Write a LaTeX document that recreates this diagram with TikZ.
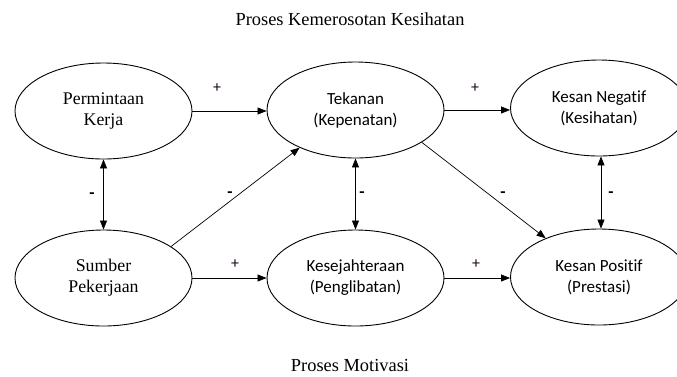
\documentclass[tikz,border=0pt]{standalone}
\usepackage{fontspec}
\setmainfont{Liberation Serif}
\newfontfamily\calfont[Ligatures={NoCommon,NoRare}]{Carlito}
\usetikzlibrary{shapes.geometric,arrows.meta}
\tikzset{
  elbox/.style={ellipse,draw,line width=0.9pt,minimum width=177pt,minimum height=96pt,inner sep=0pt,align=center},
  serifbox/.style={elbox,font=\fontsize{17.8}{21}\selectfont},
  sansbox/.style={elbox,font=\calfont\fontsize{17}{21}\selectfont},
  conn/.style={line width=0.7pt,-{Triangle[length=9pt,width=7pt]}},
  biconn/.style={line width=0.7pt,{Triangle[length=9pt,width=7pt]}-{Triangle[length=9pt,width=7pt]}},
  plus/.style={font=\calfont\fontsize{16}{16}\selectfont,text=black!80!violet,inner sep=0pt},
  minus/.style={font=\calfont\bfseries\fontsize{17}{17}\selectfont,inner sep=0pt},
  title/.style={font=\fontsize{18.4}{18}\selectfont,inner sep=0pt}
}
\begin{document}
\begin{tikzpicture}[x=1pt,y=-1pt]
\useasboundingbox (0,0) rectangle (677,376);
\node[title] (t1) at (350,19) {Proses Kemerosotan Kesihatan};
\node[title] (t2) at (350,365) {Proses Motivasi};

\node[serifbox] (pk) at (103.5,111) {Permintaan\\Kerja};
\node[sansbox] (tk) at (355.5,110) {Tekanan\\(Kepenatan)};
\node[sansbox] (kn) at (599,108) {Kesan Negatif\\(Kesihatan)};
\node[serifbox] (sp) at (103.5,278) {Sumber\\Pekerjaan};
\node[sansbox] (ks) at (355.5,278) {Kesejahteraan\\(Penglibatan)};
\node[sansbox] (kp) at (599,277) {Kesan Positif\\(Prestasi)};

\draw[conn] (pk.east) -- (tk.west |- pk.east);
\draw[conn] (tk.east) -- (kn.west |- tk.east);
\draw[conn] (sp.east) -- (ks.west |- sp.east);
\draw[conn] (ks.east) -- (kp.west |- ks.east);
\draw[biconn] (pk) -- (sp);
\draw[biconn] (tk.south) -- (ks.north);
\draw[biconn] ([xshift=2pt]kn.south) -- ([xshift=2pt]kp.north);
\draw[conn] (sp.25) -- (tk.214);
\draw[conn] (tk.-26) -- (kp.144);

\node[plus] (l1) at (217,88) {+};
\node[plus] (l2) at (475,88) {+};
\node[plus] (l3) at (235,264) {+};
\node[plus] (l4) at (476,264) {+};
\node[minus] (m1) at (92,196) {-};
\node[minus] (m2) at (230,195) {-};
\node[minus] (m3) at (362,195) {-};
\node[minus] (m4) at (503,195) {-};
\node[minus] (m5) at (611,195) {-};
\end{tikzpicture}
\end{document}
